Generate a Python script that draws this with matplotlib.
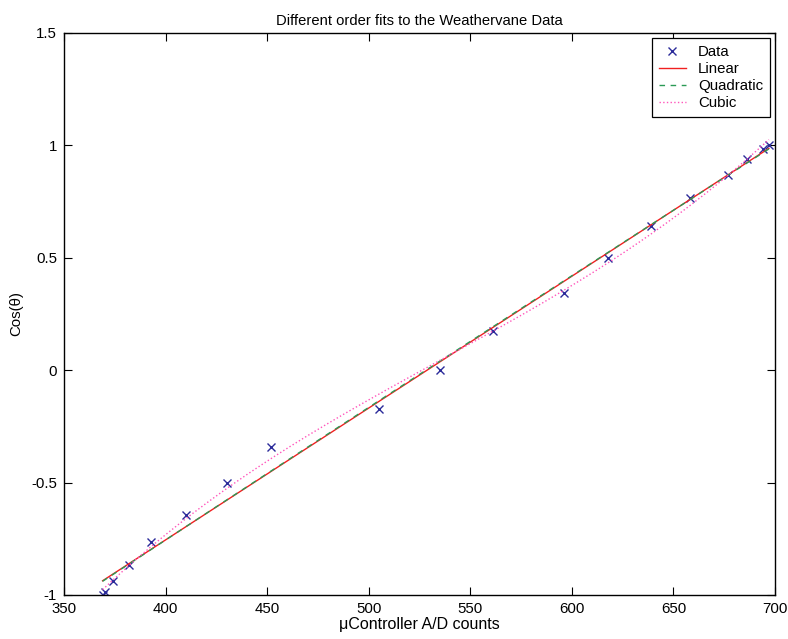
"""Different order polynomial fits to weathervane calibration data."""

import matplotlib
matplotlib.use("Agg")
import matplotlib.pyplot as plt
import numpy as np

# A/D counts read for each vane angle (180 deg down to 0 deg, 10 deg steps)
ad_counts = [369, 370, 374, 382, 393, 410, 430, 452, 505, 535,
             561, 596, 618, 639, 658, 677, 686, 694, 697]
cos_theta = [-1.0, -0.985, -0.940, -0.866, -0.766, -0.643, -0.5, -0.342, -0.174, 0.0,
             0.174, 0.342, 0.5, 0.643, 0.766, 0.866, 0.940, 0.985, 1.0]

x_ticks = [350, 400, 450, 500, 550, 600, 650, 700]
y_ticks = [-1, -0.5, 0, 0.5, 1, 1.5]
y_tick_labels = ["-1", "-0.5", "0", "0.5", "1", "1.5"]

plt.rcParams["font.family"] = ["Liberation Sans", "DejaVu Sans"]

x = np.array(ad_counts, dtype=float)
y = np.array(cos_theta)
xf = np.linspace(x.min(), x.max(), 200)
p1 = np.polyfit(x, y, 1)
p2 = np.polyfit(x, y, 2)
p3 = np.polyfit(x, y, 3)

fig = plt.figure(figsize=(7.88, 6.39), dpi=100)
ax = fig.add_axes([0.0812, 0.0689, 0.9023, 0.8795])

ax.plot(x, y, "x", color="#2b2b9a", ms=6, mew=1.0, label="Data")
ax.plot(xf, np.polyval(p1, xf), "-", color="#f02020", lw=1.0, label="Linear")
ax.plot(xf, np.polyval(p2, xf), "--", color="#2a9a55", lw=1.0, dashes=(4, 4),
        label="Quadratic")
ax.plot(xf, np.polyval(p3, xf), ":", color="#ff55bb", lw=1.0, label="Cubic")

ax.set_xlim(350, 700)
ax.set_ylim(-1, 1.5)
ax.set_xticks(x_ticks)
ax.set_yticks(y_ticks)
ax.set_yticklabels(y_tick_labels)
ax.tick_params(direction="in", top=True, right=True, length=6, labelsize=10.8, pad=5)
for s in ax.spines.values():
    s.set_linewidth(1.0)

ax.set_title("Different order fits to the Weathervane Data", fontsize=10.6, pad=6)
ax.set_xlabel("\u03bcController A/D counts", fontsize=11.5, labelpad=1)
ax.set_ylabel("Cos(\u03b8)", fontsize=10.8, labelpad=6)

leg = ax.legend(loc="upper right", fontsize=10.8, fancybox=False, framealpha=1,
                edgecolor="black", handlelength=1.8, borderaxespad=0.35,
                labelspacing=0.2, handletextpad=0.8, borderpad=0.45)
leg.get_frame().set_linewidth(0.9)

fig.savefig("out.png", dpi=100)
plt.close(fig)
